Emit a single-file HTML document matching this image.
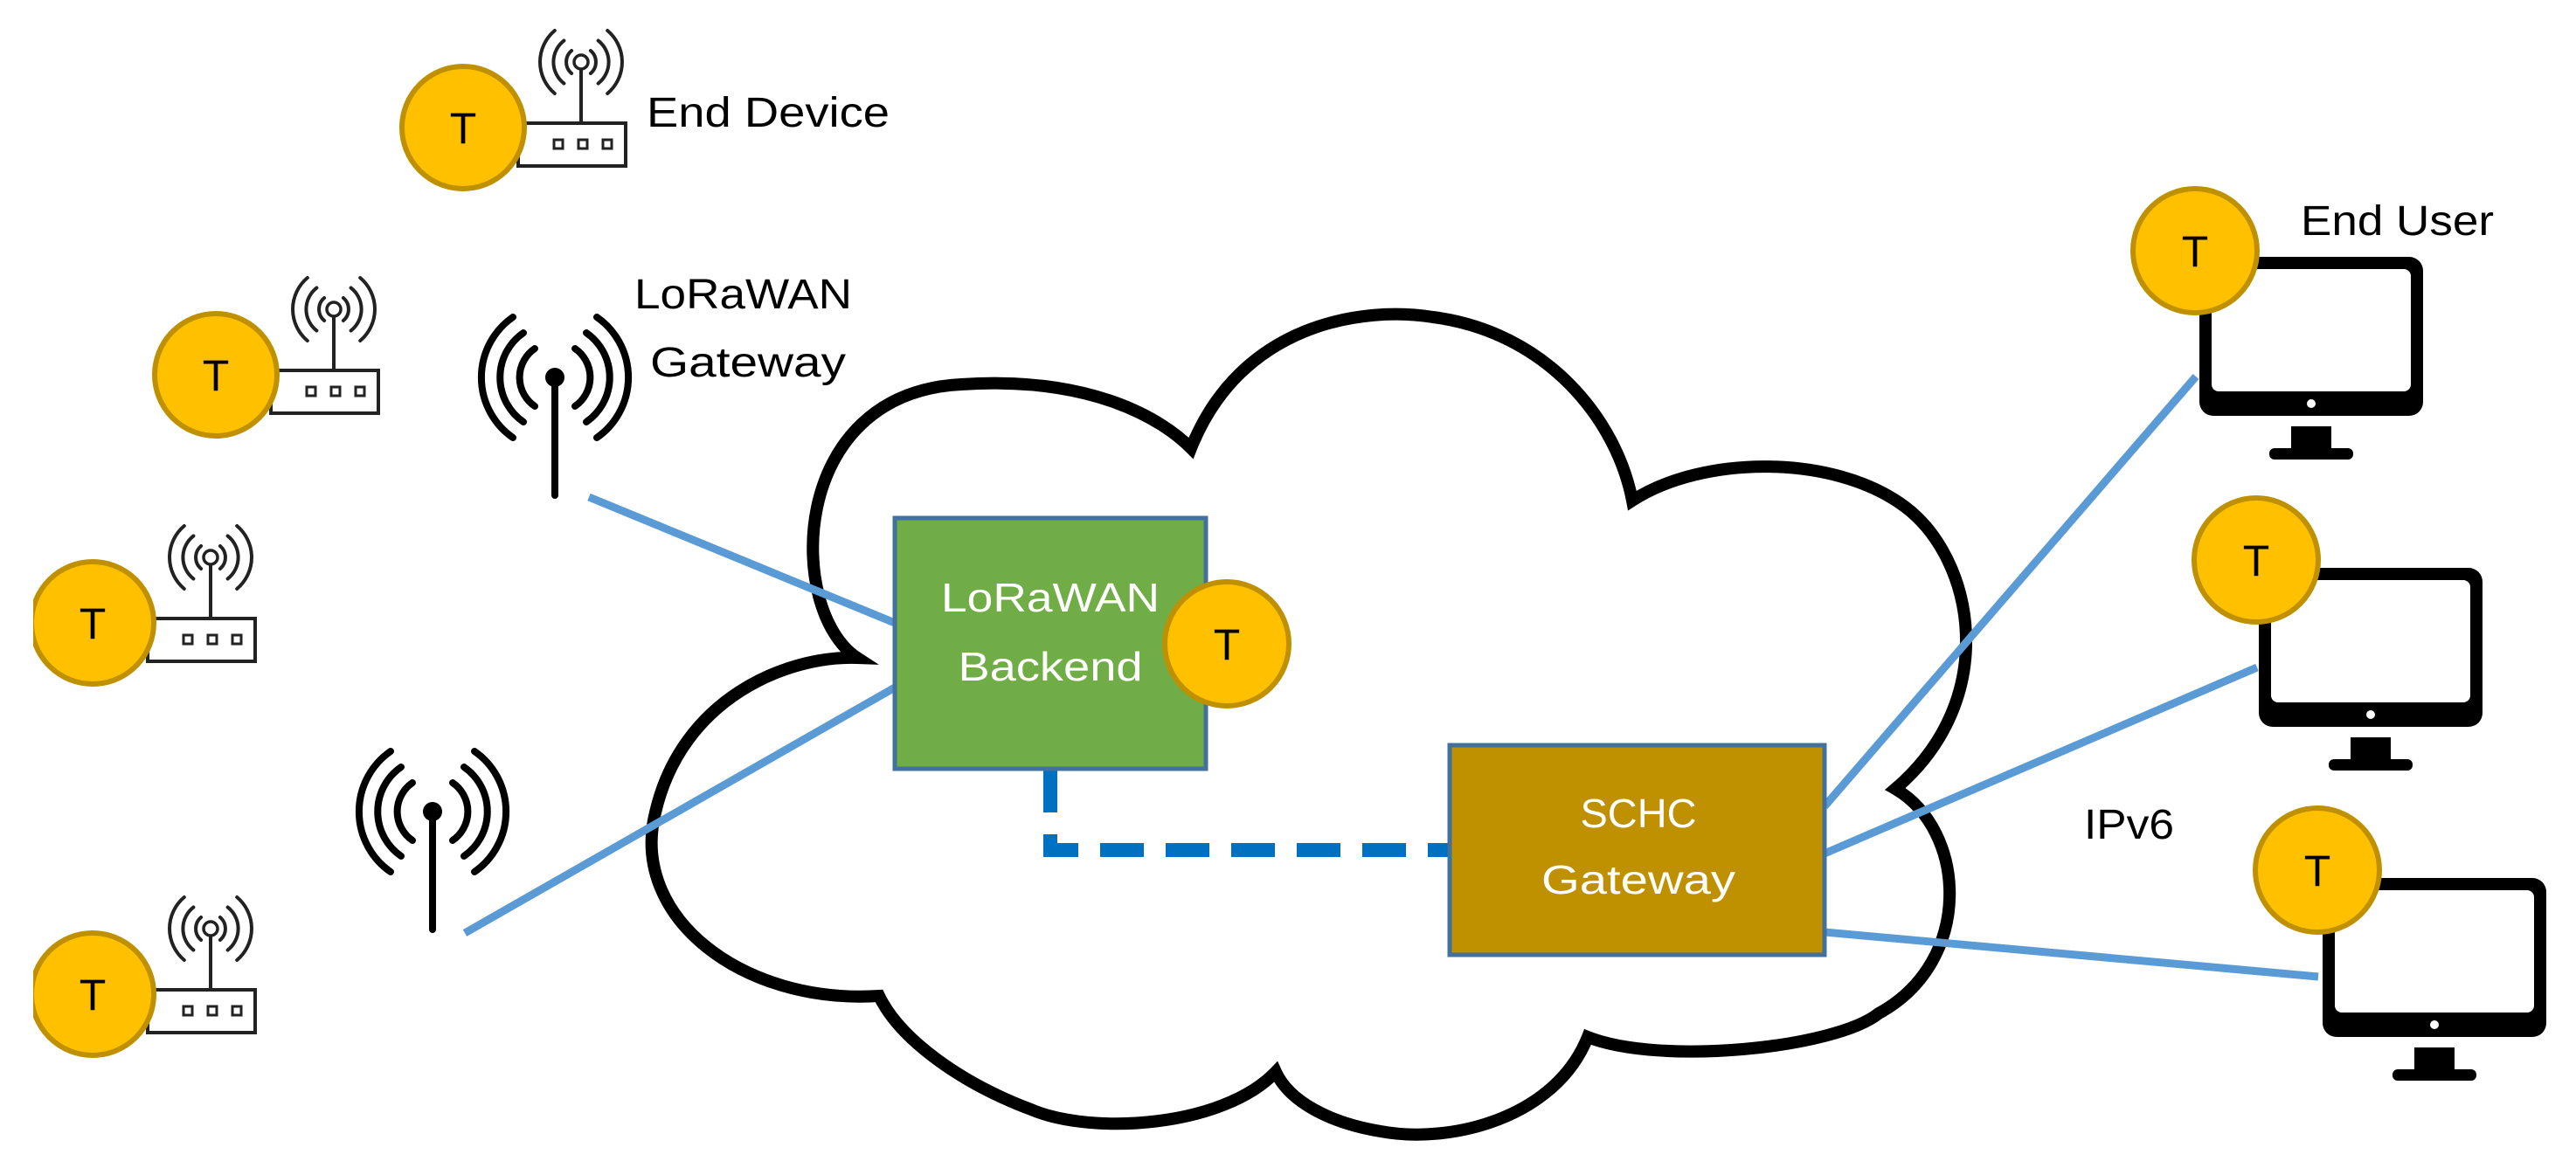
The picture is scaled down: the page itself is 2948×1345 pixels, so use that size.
<!DOCTYPE html>
<html><head><meta charset="utf-8"><style>
html,body{margin:0;padding:0;background:#fff;}
svg{display:block;}
text{font-family:"Liberation Sans",sans-serif;}
</style></head><body>
<svg width="2948" height="1345" viewBox="0 0 2948 1345" xmlns="http://www.w3.org/2000/svg">
<defs>
<g id="router">
  <rect x="63" y="-5" width="123" height="49" fill="#fff" stroke="#222" stroke-width="4"/>
  <rect x="104" y="14" width="10" height="10" fill="none" stroke="#222" stroke-width="3"/>
  <rect x="132" y="14" width="10" height="10" fill="none" stroke="#222" stroke-width="3"/>
  <rect x="160" y="14" width="10" height="10" fill="none" stroke="#222" stroke-width="3"/>
  <line x1="135" y1="-67" x2="135" y2="-5" stroke="#222" stroke-width="4"/>
  <circle cx="135" cy="-75" r="8" fill="#fff" stroke="#222" stroke-width="3.5"/>
  <g fill="none" stroke="#222" stroke-width="4" stroke-linecap="round">
    <path d="M124.1 -88 A17 17 0 0 0 124.1 -62"/><path d="M145.9 -88 A17 17 0 0 1 145.9 -62"/>
    <path d="M115.4 -99.5 A31 31 0 0 0 115.4 -50.5"/><path d="M154.6 -99.5 A31 31 0 0 1 154.6 -50.5"/>
    <path d="M104.8 -111 A47 47 0 0 0 104.8 -39"/><path d="M165.2 -111 A47 47 0 0 1 165.2 -39"/>
  </g>
  <circle cx="0" cy="0" r="70" fill="#FFC000" stroke="#BF9000" stroke-width="6"/>
  <text x="0" y="18" font-size="50" text-anchor="middle" fill="#000">T</text>
</g>
<g id="tower">
  <line x1="0" y1="0" x2="0" y2="135" stroke="#000" stroke-width="8" stroke-linecap="round"/>
  <circle cx="0" cy="0" r="11" fill="#000"/>
  <g fill="none" stroke="#000" stroke-width="8" stroke-linecap="round">
    <path d="M-23 -33 A40 40 0 0 0 -23 33"/><path d="M23 -33 A40 40 0 0 1 23 33"/>
    <path d="M-36 -51 A62 62 0 0 0 -36 51"/><path d="M36 -51 A62 62 0 0 1 36 51"/>
    <path d="M-48 -69 A84 84 0 0 0 -48 69"/><path d="M48 -69 A84 84 0 0 1 48 69"/>
  </g>
</g>
<g id="monitor">
  <rect x="0" y="0" width="256" height="182" rx="16" fill="#000"/>
  <rect x="14" y="14" width="228" height="140" rx="8" fill="#fff"/>
  <circle cx="128" cy="168" r="5" fill="#fff"/>
  <rect x="105" y="194" width="46" height="28" fill="#000"/>
  <rect x="80" y="219" width="96" height="13" rx="6" fill="#000"/>
</g>
<g id="tcirc">
  <circle cx="0" cy="0" r="71" fill="#FFC000" stroke="#BF9000" stroke-width="6"/>
  <text x="0" y="18" font-size="50" text-anchor="middle" fill="#000">T</text>
</g>
</defs>

<!-- cloud -->
<path d="M981 753 C900 700,900 450,1100 440 C1250 430,1330 480,1363 513 C1420 370,1560 350,1640 363 C1770 380,1850 480,1868 573 C1950 520,2100 520,2180 580 C2260 640,2290 800,2169 903 C2250 950,2260 1100,2150 1160 C2100 1200,1900 1220,1817 1187 C1780 1280,1660 1310,1580 1295 C1520 1285,1475 1260,1460 1227 C1400 1290,1250 1300,1180 1270 C1100 1240,1030 1190,1006 1140 C850 1150,720 1050,750 930 C780 800,900 750,981 753 Z" fill="#fff" stroke="#000" stroke-width="14" stroke-linejoin="miter"/>

<!-- connectors -->
<g stroke="#5B9BD5" stroke-width="9" fill="none">
  <line x1="674" y1="569" x2="1024" y2="713"/>
  <line x1="532" y1="1068" x2="1024" y2="787"/>
  <line x1="2088" y1="923" x2="2513" y2="431"/>
  <line x1="2088" y1="977" x2="2583" y2="764"/>
  <line x1="2088" y1="1067" x2="2653" y2="1118"/>
</g>
<path d="M1202 880 V973 H1659" fill="none" stroke="#0070C0" stroke-width="16" stroke-dasharray="50 25"/>

<!-- boxes -->
<rect x="1024" y="593" width="356" height="287" fill="#70AD47" stroke="#41719C" stroke-width="5"/>
<text x="1202" y="700" font-size="46" fill="#fff" text-anchor="middle" textLength="250" lengthAdjust="spacingAndGlyphs">LoRaWAN</text>
<text x="1202" y="779" font-size="46" fill="#fff" text-anchor="middle" textLength="211" lengthAdjust="spacingAndGlyphs">Backend</text>
<use href="#tcirc" x="1404" y="737"/>

<rect x="1659" y="853" width="429" height="240" fill="#BF9000" stroke="#41719C" stroke-width="5"/>
<text x="1875" y="947" font-size="46" fill="#fff" text-anchor="middle" textLength="133" lengthAdjust="spacingAndGlyphs">SCHC</text>
<text x="1875" y="1023" font-size="46" fill="#fff" text-anchor="middle" textLength="222" lengthAdjust="spacingAndGlyphs">Gateway</text>

<!-- end devices -->
<use href="#router" x="530" y="146"/>
<use href="#router" x="247" y="429"/>
<use href="#router" x="106" y="713"/>
<use href="#router" x="106" y="1138"/>
<rect x="0" y="600" width="38" height="640" fill="#fff"/>

<text x="740" y="145" font-size="48" fill="#000" textLength="278" lengthAdjust="spacingAndGlyphs">End Device</text>

<!-- gateways -->
<use href="#tower" x="635" y="432"/>
<use href="#tower" x="495" y="929"/>
<text x="726" y="353" font-size="48" fill="#000" textLength="249" lengthAdjust="spacingAndGlyphs">LoRaWAN</text>
<text x="744" y="431" font-size="48" fill="#000" textLength="224" lengthAdjust="spacingAndGlyphs">Gateway</text>

<!-- end users -->
<use href="#monitor" x="2517" y="294"/>
<use href="#monitor" x="2585" y="650"/>
<use href="#monitor" x="2658" y="1005"/>
<use href="#tcirc" x="2512" y="287"/>
<use href="#tcirc" x="2582" y="641"/>
<use href="#tcirc" x="2652" y="996"/>
<text x="2633" y="269" font-size="48" fill="#000" textLength="221" lengthAdjust="spacingAndGlyphs">End User</text>
<text x="2385" y="960" font-size="48" fill="#000" textLength="103" lengthAdjust="spacingAndGlyphs">IPv6</text>
</svg>
</body></html>
